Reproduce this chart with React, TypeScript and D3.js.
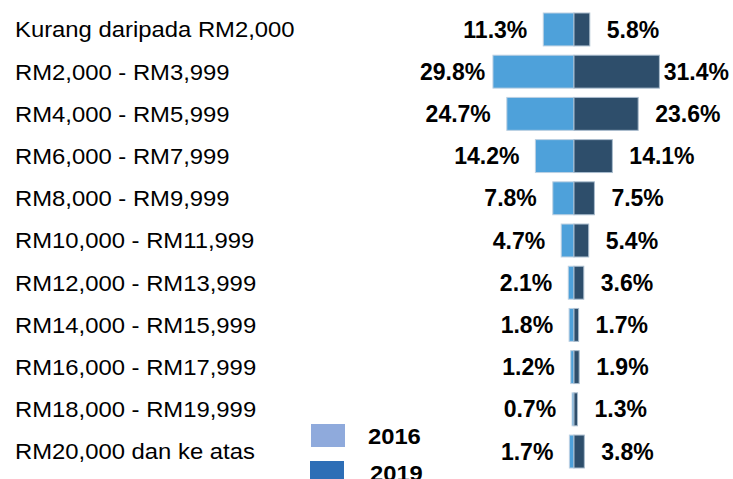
import React, { useEffect, useRef } from "react";
import * as d3 from "d3";

const categories = [
  "Kurang daripada RM2,000",
  "RM2,000 - RM3,999",
  "RM4,000 - RM5,999",
  "RM6,000 - RM7,999",
  "RM8,000 - RM9,999",
  "RM10,000 - RM11,999",
  "RM12,000 - RM13,999",
  "RM14,000 - RM15,999",
  "RM16,000 - RM17,999",
  "RM18,000 - RM19,999",
  "RM20,000 dan ke atas",
];
const values2016 = [11.3, 29.8, 24.7, 14.2, 7.8, 4.7, 2.1, 1.8, 1.2, 0.7, 1.7];
const values2019 = [5.8, 31.4, 23.6, 14.1, 7.5, 5.4, 3.6, 1.7, 1.9, 1.3, 3.8];
const seriesNames = ["2016", "2019"];

const W = 733;
const H = 479;
const FONT = "'Liberation Sans', Arial, sans-serif";

export default function App() {
  const ref = useRef<SVGSVGElement>(null);

  useEffect(() => {
    const svg = d3.select(ref.current!);
    svg.selectAll("*").remove();

    const center = 574;
    const y = d3.scaleBand<string>().domain(categories).range([13, 468]).paddingInner(0.22).paddingOuter(0);
    const x = d3.scaleLinear().domain([0, 31.4]).range([0, 85.4]);

    const minX = 420;
    const maxX = 729;

    // category labels
    svg
      .append("g")
      .selectAll("text")
      .data(categories)
      .join("text")
      .attr("transform", (d) => `translate(15, ${y(d)! + y.bandwidth() / 2}) scale(1.06, 1)`)
      .attr("dy", "0.35em")
      .attr("font-family", FONT)
      .attr("font-size", 22.5)
      .attr("fill", "#000")
      .text((d) => d);

    const rows = categories.map((c, i) => ({ c, a: values2016[i], b: values2019[i] }));

    // bars
    const g = svg.append("g");
    g.selectAll("rect.l")
      .data(rows)
      .join("rect")
      .attr("class", "l")
      .attr("x", (d) => center - x(d.a))
      .attr("y", (d) => y(d.c)!)
      .attr("width", (d) => x(d.a))
      .attr("height", y.bandwidth())
      .attr("fill", "#4ea1da")
      .attr("stroke", "#bcd0e2")
      .attr("stroke-width", 1);
    g.selectAll("rect.r")
      .data(rows)
      .join("rect")
      .attr("class", "r")
      .attr("x", center)
      .attr("y", (d) => y(d.c)!)
      .attr("width", (d) => x(d.b))
      .attr("height", y.bandwidth())
      .attr("fill", "#2e4e6b")
      .attr("stroke", "#a9bccd")
      .attr("stroke-width", 1);

    // value labels
    const lt = svg
      .append("g")
      .selectAll("text")
      .data(rows)
      .join("text")
      .attr("y", (d) => y(d.c)! + y.bandwidth() / 2)
      .attr("dy", "0.35em")
      .attr("font-family", FONT)
      .attr("font-weight", "bold")
      .attr("font-size", 23)
      .text((d) => d.a.toFixed(1) + "%");
    lt.each(function (d) {
      const t = this as SVGTextElement;
      const w = t.getComputedTextLength();
      const xs = Math.max(minX, center - x(d.a) - 16 - w);
      d3.select(t).attr("x", xs);
    });
    const rt = svg
      .append("g")
      .selectAll("text")
      .data(rows)
      .join("text")
      .attr("y", (d) => y(d.c)! + y.bandwidth() / 2)
      .attr("dy", "0.35em")
      .attr("font-family", FONT)
      .attr("font-weight", "bold")
      .attr("font-size", 23)
      .text((d) => d.b.toFixed(1) + "%");
    rt.each(function (d) {
      const t = this as SVGTextElement;
      const w = t.getComputedTextLength();
      const xs = Math.min(maxX - w, center + x(d.b) + 17);
      d3.select(t).attr("x", xs);
    });

    // legend
    const legendColors = ["#8faadc", "#2e6eb6"];
    const lg = svg.append("g");
    seriesNames.forEach((s, i) => {
      lg.append("rect")
        .attr("x", 311 - i)
        .attr("y", 424 + i * 37)
        .attr("width", 34)
        .attr("height", 23)
        .attr("fill", legendColors[i]);
      lg.append("text")
        .attr("transform", `translate(${368 + i * 2}, ${444 + i * 37}) scale(1.08, 1)`)
        .attr("font-family", FONT)
        .attr("font-weight", "bold")
        .attr("font-size", 22)
        .text(s);
    });
  }, []);

  return (
    <svg
      ref={ref}
      width={W}
      height={H}
      style={{ position: "absolute", left: 0, top: 0, display: "block", background: "#fff" }}
    />
  );
}
